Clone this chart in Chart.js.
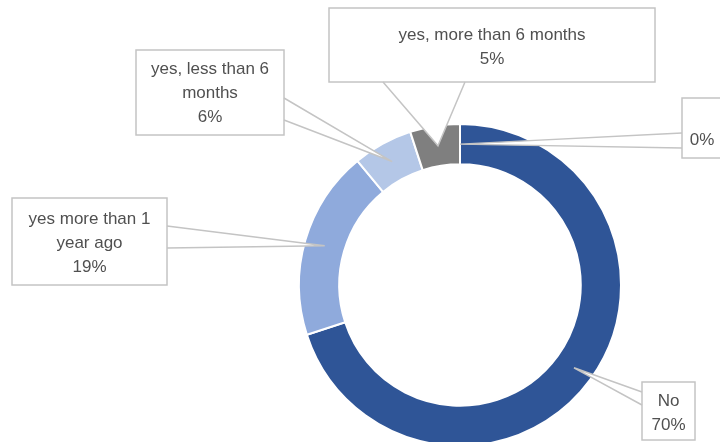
<!DOCTYPE html>
<html>
<head>
<meta charset="utf-8">
<script src="https://cdn.jsdelivr.net/npm/chart.js@4.4.1/dist/chart.umd.min.js"></script>
<style>
  html, body { margin: 0; padding: 0; background: #fff; }
  #wrap { width: 720px; height: 442px; }
</style>
</head>
<body>
<div id="wrap"><canvas id="donut"></canvas></div>
<script>
// data
const categories = ['', 'No', 'yes more than 1 year ago', 'yes, less than 6 months', 'yes, more than 6 months'];
const shares = [0, 70, 19, 6, 5];
const sliceColors = ['#A5A5A5', '#2F5597', '#8FAADC', '#B4C7E7', '#7F7F7F'];

// callout boxes (left, top, right, bottom) and the two points where the pointer leaves the box
const callouts = [
    { box: [682, 98, 722, 158], base: [[682, 133], [682, 148]], nameShown: false, dy: 12 },
    { box: [642, 382, 695, 440], base: [[642, 392], [642, 405]], nameShown: true, dy: 2 },
    { box: [12, 198, 167, 285], base: [[167, 226], [167, 248]], nameShown: true, dy: 2 },
    { box: [136, 50, 284, 135], base: [[284, 98], [284, 120]], nameShown: true, dy: 1 },
    { box: [329, 8, 655, 82], base: [[383, 82], [465, 82]], nameShown: true, dy: 2 }
];

const labelFont = '17px "Liberation Sans", Arial, sans-serif';
const lineHeight = 24;

function wrapText(ctx, text, maxWidth) {
    const words = text.split(' ');
    const lines = [];
    let cur = '';
    words.forEach(w => {
        const test = cur ? cur + ' ' + w : w;
        if (ctx.measureText(test).width > maxWidth && cur) {
            lines.push(cur);
            cur = w;
        } else {
            cur = test;
        }
    });
    if (cur) lines.push(cur);
    return lines;
}

const calloutPlugin = {
    id: 'callouts',
    afterDatasetsDraw(chart) {
        const ctx = chart.ctx;
        const meta = chart.getDatasetMeta(0);
        const total = shares.reduce((a, b) => a + b, 0);
        ctx.save();
        ctx.font = labelFont;
        meta.data.forEach((arc, i) => {
            const c = callouts[i];
            const mid = (arc.startAngle + arc.endAngle) / 2;
            const r = (arc.innerRadius + arc.outerRadius) / 2;
            const tip = [arc.x + Math.cos(mid) * r, arc.y + Math.sin(mid) * r];
            const [l, t, rt, b] = c.box;

            // pointer + box fill
            ctx.fillStyle = '#ffffff';
            ctx.beginPath();
            ctx.moveTo(c.base[0][0], c.base[0][1]);
            ctx.lineTo(tip[0], tip[1]);
            ctx.lineTo(c.base[1][0], c.base[1][1]);
            ctx.closePath();
            ctx.fill();
            ctx.fillRect(l, t, rt - l, b - t);

            ctx.strokeStyle = '#c4c4c4';
            ctx.lineWidth = 1.5;
            ctx.strokeRect(l, t, rt - l, b - t);
            ctx.beginPath();
            ctx.moveTo(c.base[0][0], c.base[0][1]);
            ctx.lineTo(tip[0], tip[1]);
            ctx.lineTo(c.base[1][0], c.base[1][1]);
            ctx.stroke();

            // text
            let lines = [];
            if (c.nameShown) lines = wrapText(ctx, categories[i], rt - l - 12);
            lines.push(Math.round(shares[i] / total * 100) + '%');
            ctx.fillStyle = '#505050';
            ctx.textAlign = 'center';
            ctx.textBaseline = 'middle';
            const cx = (l + rt) / 2;
            const cy = (t + b) / 2 + c.dy;
            const y0 = cy - (lines.length - 1) * lineHeight / 2;
            lines.forEach((ln, k) => ctx.fillText(ln, cx, y0 + k * lineHeight));
        });
        ctx.restore();
    }
};

new Chart(document.getElementById('donut'), {
    type: 'doughnut',
    data: {
        labels: categories,
        datasets: [{
            data: shares,
            backgroundColor: sliceColors,
            borderColor: '#ffffff',
            borderWidth: 2,
            radius: 161,
            clip: false
        }]
    },
    options: {
        responsive: true,
        maintainAspectRatio: false,
        animation: false,
        events: [],
        cutout: '75%',
        layout: {
            padding: { left: 200, right: 0, top: 128, bottom: 0 }
        },
        plugins: {
            legend: { display: false },
            tooltip: { enabled: false }
        }
    },
    plugins: [calloutPlugin]
});
</script>
</body>
</html>
